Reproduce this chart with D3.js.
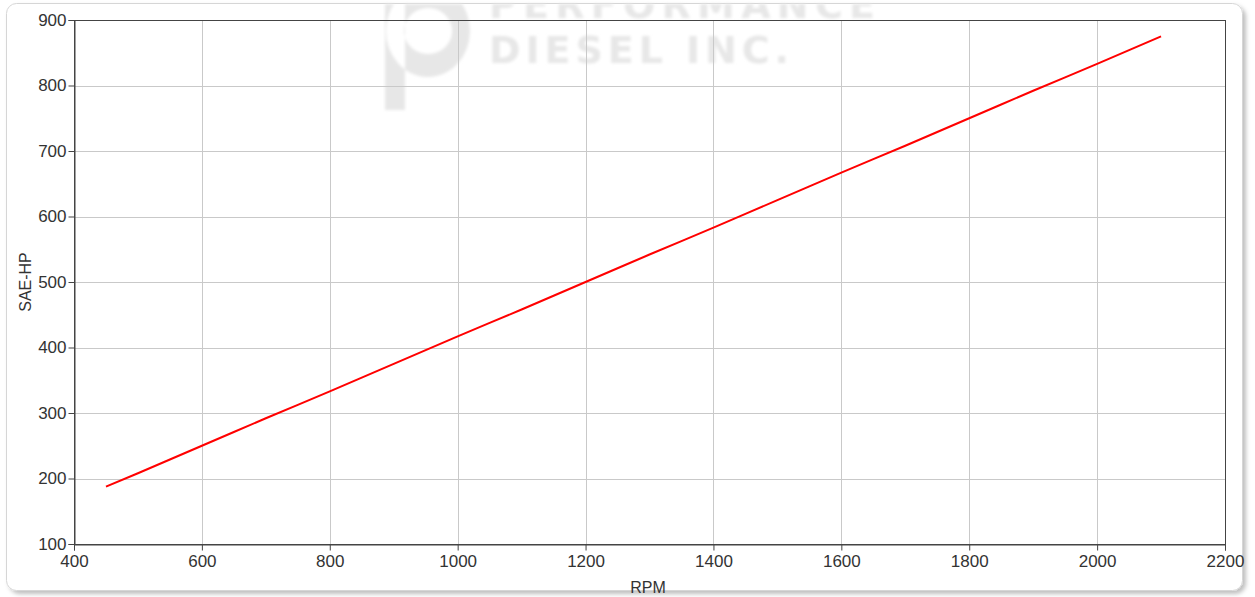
<!DOCTYPE html>
<html><head><meta charset="utf-8">
<script src="https://cdn.jsdelivr.net/npm/d3@7"></script>
<style>
html,body{margin:0;padding:0;background:#fff;}
svg{display:block;}
</style></head>
<body>
<svg id="chart" width="1255" height="597"></svg>
<script>
const rpm = [450,500,550,600,650,700,750,800,850,900,950,1000,1050,1100,1150,1200,1250,1300,1350,1400,1450,1500,1550,1600,1650,1700,1750,1800,1850,1900,1950,2000,2050,2100];
const saeHp = [187.5,208,229,250,271,292,312.5,333,354,375,396,417,437.5,458,479,500,521,542,562.5,583,604,625,646,667,687.5,708,729,750,771,792,812.5,833,854,875];
const xTicks = [400,600,800,1000,1200,1400,1600,1800,2000,2200];
const yTicks = [100,200,300,400,500,600,700,800,900];
const xLabel = "RPM";
const yLabel = "SAE-HP";

const svg = d3.select("#chart");
const defs = svg.append("defs");
const blur = defs.append("filter").attr("id","blur").attr("x","-20%").attr("y","-20%").attr("width","140%").attr("height","140%");
blur.append("feGaussianBlur").attr("stdDeviation",1.6);
const sh = defs.append("filter").attr("id","shadow").attr("x","-5%").attr("y","-5%").attr("width","110%").attr("height","110%");
sh.append("feDropShadow").attr("dx",3).attr("dy",3).attr("stdDeviation",2).attr("flood-color","#000").attr("flood-opacity",0.25);

// panel
svg.append("rect").attr("x",6.5).attr("y",3.5).attr("width",1236).attr("height",587)
  .attr("rx",10).attr("fill","#fff").attr("stroke","#d6d6d6").attr("filter","url(#shadow)");

const m = {left:74, right:1225, top:20, bottom:544};
const x = d3.scaleLinear().domain([400,2200]).range([m.left,m.right]);
const y = d3.scaleLinear().domain([100,900]).range([m.bottom,m.top]);

// watermark
const wm = svg.append("g").attr("filter","url(#blur)").attr("fill","#e7e7e7");
const clip = defs.append("clipPath").attr("id","pclip");
clip.append("rect").attr("x",0).attr("y",4).attr("width",1255).attr("height",590);
const wmg = wm.append("g").attr("clip-path","url(#pclip)");
wmg.append("path").attr("fill-rule","evenodd")
  .attr("d","M385,-20 L405,-20 L405,110 L385,110 Z M428,-15 A42,46 0 1 1 427.9,77 A42,46 0 1 1 428,-15 Z M428,8 A24,23 0 1 0 428.1,8 Z");
wmg.append("text").attr("x",489).attr("y",18).attr("font-family","'DejaVu Sans', Verdana, sans-serif")
  .attr("font-weight","bold").attr("font-size",38).attr("textLength",386).attr("lengthAdjust","spacing").text("PERFORMANCE");
wmg.append("text").attr("x",489).attr("y",63).attr("font-family","'DejaVu Sans', Verdana, sans-serif")
  .attr("font-weight","bold").attr("font-size",38).attr("textLength",300).attr("lengthAdjust","spacing").text("DIESEL INC.");

// gridlines
const grid = svg.append("g").attr("stroke","#c9c9c9").attr("stroke-width",1);
grid.selectAll("line.v").data(xTicks.slice(1,-1)).join("line")
  .attr("x1",d=>Math.round(x(d))+0.5).attr("x2",d=>Math.round(x(d))+0.5)
  .attr("y1",m.top).attr("y2",m.bottom);
grid.selectAll("line.h").data(yTicks.slice(1,-1)).join("line")
  .attr("x1",m.left).attr("x2",m.right)
  .attr("y1",d=>Math.round(y(d))+0.5).attr("y2",d=>Math.round(y(d))+0.5);

// frame
svg.append("rect").attr("x",m.left+0.5).attr("y",m.top+0.5)
  .attr("width",m.right-m.left).attr("height",m.bottom-m.top)
  .attr("fill","none").attr("stroke","#444").attr("stroke-width",1);

// axes
const font = "Arial, 'Liberation Sans', sans-serif";
const xa = svg.append("g").attr("transform",`translate(0,${m.bottom+0.5})`)
  .call(d3.axisBottom(x).tickValues(xTicks).tickSize(6).tickPadding(4).tickFormat(d3.format("d")));
const ya = svg.append("g").attr("transform",`translate(${m.left+0.5},0)`)
  .call(d3.axisLeft(y).tickValues(yTicks).tickSize(6).tickPadding(2).tickFormat(d3.format("d")));
[xa,ya].forEach(a=>{
  a.select(".domain").attr("stroke","#444");
  a.selectAll(".tick line").attr("stroke","#444");
  a.selectAll(".tick text").attr("fill","#333").attr("font-family",font).attr("font-size",17);
});

// line
svg.append("path").datum(rpm.map((r,i)=>[r,saeHp[i]]))
  .attr("fill","none").attr("stroke","#ff0000").attr("stroke-width",2)
  .attr("d",d3.line().x(d=>x(d[0])).y(d=>y(d[1])));

// labels
svg.append("text").attr("x",648).attr("y",593).attr("text-anchor","middle")
  .attr("font-family",font).attr("font-size",16).attr("fill","#333").text(xLabel);
svg.append("text").attr("transform",`translate(31,${(m.top+m.bottom)/2}) rotate(-90)`)
  .attr("text-anchor","middle").attr("font-family",font).attr("font-size",16).attr("fill","#333").text(yLabel);
</script>
</body></html>
